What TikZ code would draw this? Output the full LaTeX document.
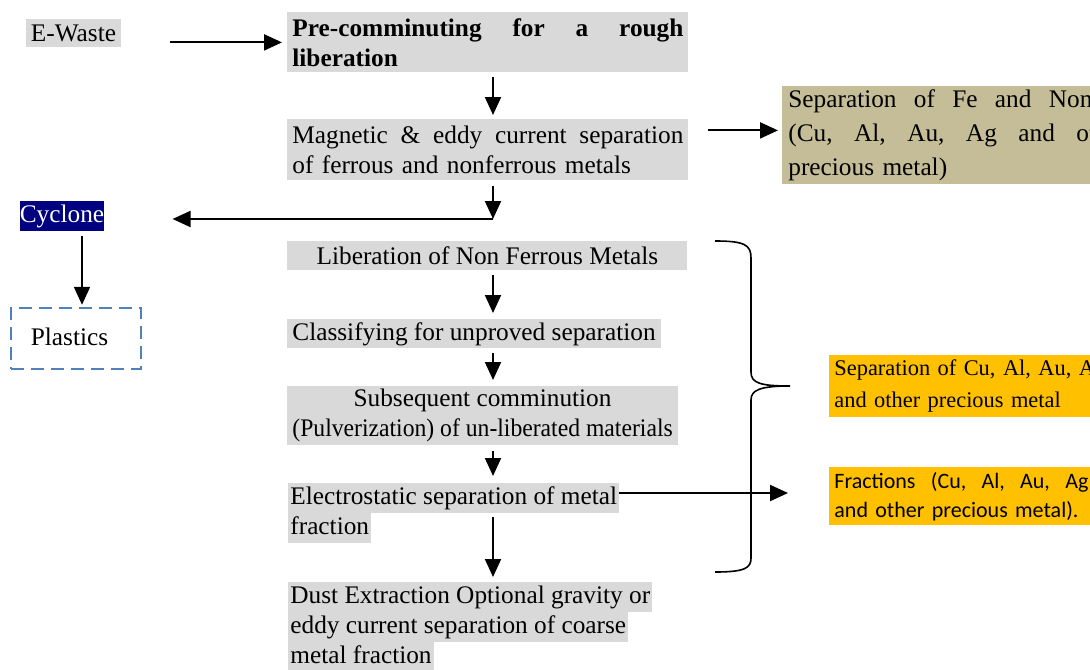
\documentclass[tikz,border=0pt]{standalone}
\usepackage{fontspec}
\usepackage{graphicx}
\setmainfont{Liberation Serif}
\newfontfamily\calibri{Carlito}
\usetikzlibrary{arrows.meta}

\definecolor{boxgray}{HTML}{D9D9D9}
\definecolor{tanbox}{HTML}{C4BD97}
\definecolor{navybox}{HTML}{000080}
\definecolor{orangebox}{HTML}{FFC000}
\definecolor{dashblue}{HTML}{4F81BD}

\newcommand\mainsize{\fontsize{12.65}{15}\selectfont}
\newcommand\hl[1]{{\setlength\fboxsep{0pt}\colorbox{boxgray}{\strut\hspace{1pt}#1\hspace{1pt}}}}

\begin{document}
\begin{tikzpicture}[x=0.5pt, y=-0.5pt, font=\mainsize,
    arr/.style={-{Triangle[length=9pt,width=8pt]}, line width=1pt},
    graybox/.style={fill=boxgray, inner xsep=2.5pt, inner ysep=0pt, anchor=north west}]

    \useasboundingbox (0,0) rectangle (1090,669);
    \clip (0,0) rectangle (1090,669);
    \fill[white] (0,0) rectangle (1090,669);

    % input and first steps
    \node (ewaste) [fill=boxgray, inner sep=0pt, minimum width=47.5pt, minimum height=14pt] at (73.5,33) {E-Waste};
    \node (precomm) [graybox, text width=195.5pt, minimum height=30pt, align=left, font=\mainsize\bfseries] at (287,12) {\makebox[195.5pt][s]{Pre-comminuting\hfill for\hfill a\hfill rough}\\liberation};
    \node (magnetic) [graybox, text width=195.5pt, minimum height=30.5pt, align=left] at (287,119) {\makebox[195.5pt][s]{Magnetic\hfill \&\hfill eddy\hfill current\hfill separation}\\of ferrous and nonferrous metals};
    \node (sepfe) [fill=tanbox, anchor=north west, inner xsep=3pt, inner ysep=0pt, text width=200pt, minimum height=49pt, align=left, font=\fontsize{12.65}{17}\selectfont] at (782,86) {\makebox[152pt][s]{Separation\hfill of\hfill Fe\hfill and\hfill Non}\\\makebox[170pt][s]{(Cu,\hfill Al,\hfill Au,\hfill Ag\hfill and\hfill other}\\precious metal)};

    % cyclone branch
    \node (cyclone) [fill=navybox, text=white, inner sep=0pt, minimum width=42pt, minimum height=15pt] at (62,216) {Cyclone};
    \node (plastics) [draw=dashblue, dash pattern=on 6.5pt off 3.5pt, line width=1.2pt, inner sep=0pt, minimum width=65pt, minimum height=30.5pt] at (76,338.5) {\raisebox{1.5pt}{Plastics}\kern6.5pt};

    % non ferrous line
    \node (liberation) [graybox, minimum width=200pt, minimum height=14.5pt] at (287,241) {Liberation of Non Ferrous Metals};
    \node (classify) [graybox, minimum height=14.5pt] at (287,319) {Classifying for unproved separation};
    \node (subseq) [graybox, minimum height=29.5pt, align=center] at (287,386) {Subsequent comminution\\\scalebox{0.935}[1]{(Pulverization) of un-liberated materials}};
    \node (electro) [anchor=north west, inner sep=0pt, align=left] at (288,483) {\hl{Electrostatic separation of metal}\\\hl{fraction}};
    \node (dust) [anchor=north west, inner sep=0pt, align=left] at (288,582) {\hl{Dust Extraction Optional gravity or}\\\hl{eddy current separation of coarse}\\\hl{metal fraction}};

    % metal outputs
    \node (sepcu) [fill=orangebox, anchor=north west, inner xsep=2.5pt, inner ysep=0pt, text width=150pt, minimum height=31pt, align=left, font=\fontsize{11.2}{16}\selectfont] at (829,355) {Separation of Cu, Al, Au, Ag\\and other precious metal};
    \node (fractions) [fill=orangebox, anchor=north west, inner xsep=2.5pt, inner ysep=0pt, text width=150pt, minimum height=29pt, align=left, font=\calibri\fontsize{11}{14.5}\selectfont] at (829,467) {\makebox[127pt][s]{Fractions\hfill (Cu,\hfill Al,\hfill Au,\hfill Ag}\\and other precious metal).};

    % arrows
    \coordinate (split) at (493,219);
    \coordinate (mright) at ([yshift=9.75pt]magnetic.east);
    \coordinate (eright) at ([yshift=-5pt]electro.north east);
    \draw[arr, shorten <=24.5pt, shorten >=2.5pt] (ewaste.east |- precomm.west) -- (precomm.west);
    \draw[arr, shorten <=2pt, shorten >=2pt] (precomm.south -| split) -- (magnetic.north -| split);
    \draw[arr, shorten <=9.5pt, shorten >=2pt] (mright) -- (mright -| sepfe.west);
    \draw[arr, shorten <=2.5pt] (magnetic.south -| split) -- (split);
    \draw[arr, shorten >=34pt] (split) -- (split -| cyclone.east);
    \draw[arr, shorten <=2.5pt, shorten >=1pt] ([xshift=10pt]cyclone.south) -- ([xshift=10pt]cyclone.south |- plastics.north);
    \draw[arr, shorten <=2pt, shorten >=3pt] (liberation.south -| split) -- (classify.north -| split);
    \draw[arr, shorten <=2pt, shorten >=3pt] (classify.south -| split) -- (subseq.north -| split);
    \draw[arr, shorten <=2.5pt, shorten >=3.5pt] (subseq.south -| split) -- (electro.north -| split);
    \draw[arr, shorten <=17pt, shorten >=2.5pt] (electro.north -| split) -- (dust.north -| split);
    \draw[arr, shorten >=20.5pt] (eright) -- (eright -| fractions.west);

    % brace
    \draw[line width=0.8pt] (715,241) .. controls (745,241) and (751,245) .. (751,258) -- (751,372)
        .. controls (751,383) and (760,386) .. (790,386) .. controls (760,386) and (751,390) .. (751,400)
        -- (751,558) .. controls (751,568) and (745,572) .. (715,572);

\end{tikzpicture}
\end{document}
